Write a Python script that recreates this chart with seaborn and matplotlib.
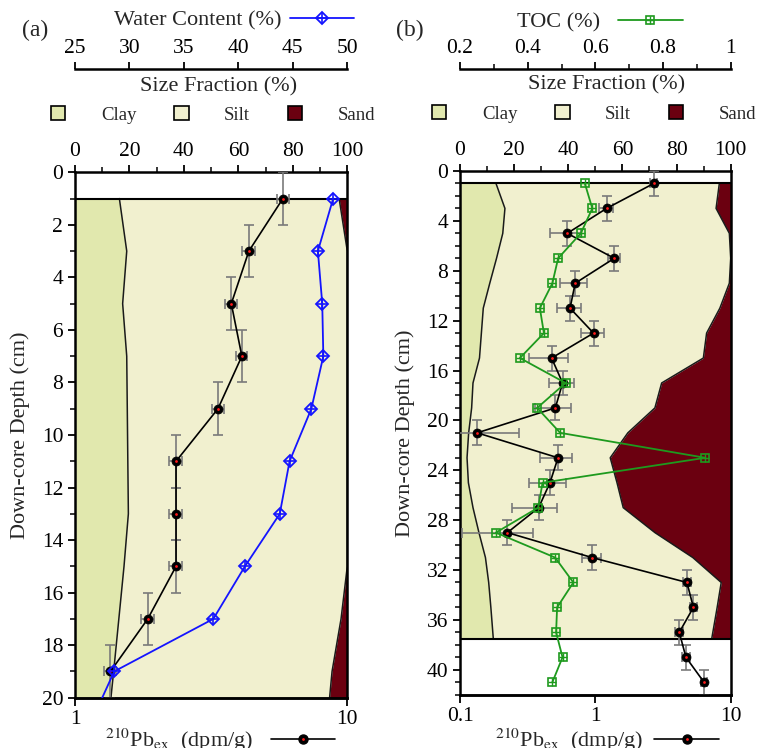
import matplotlib
matplotlib.use("Agg")
import matplotlib.pyplot as plt
from matplotlib.lines import Line2D
from matplotlib.patches import Patch
from matplotlib.legend_handler import HandlerTuple
from matplotlib.ticker import MultipleLocator, FixedLocator, NullLocator, FuncFormatter
import seaborn as sns

# ---------------- Core (a) ----------------
a_depth = [1, 3, 5, 7, 9, 11, 13, 15, 17, 19]
a_pb = [5.8, 4.35, 3.75, 4.1, 3.35, 2.35, 2.35, 2.35, 1.85, 1.35]
a_pb_err = [0.3, 0.25, 0.19, 0.2, 0.17, 0.13, 0.13, 0.13, 0.1, 0.07]
a_wc_depth = [1, 3, 5, 7, 9, 11, 13, 15, 17, 19, 21]
a_wc = [48.7, 47.3, 47.7, 47.8, 46.7, 44.7, 43.8, 40.6, 37.7, 28.6, 26.4]
a_sf_depth = [1, 3, 5, 7, 9, 11, 13, 15, 17, 19, 20]
a_clay = [16.3, 19.0, 17.5, 19.0, 19.2, 19.4, 19.6, 18.0, 16.1, 14.2, 13.2]
a_clay_silt = [97.0, 100, 100, 100, 100, 100, 100, 100, 97.7, 94.4, 93.5]

# ---------------- Core (b) ----------------
b_depth = [1, 3, 5, 7, 9, 11, 13, 15, 17, 19, 21, 23, 25, 27, 29, 31, 33, 35, 37, 39, 41]
b_pb = [2.7, 1.21, 0.62, 1.38, 0.71, 0.65, 0.97, 0.475, 0.573, 0.506, 0.134,
        0.53, 0.462, 0.381, 0.224, 0.944, 4.75, 5.3, 4.17, 4.67, 6.35]
b_pb_err = [0.15, 0.15, 0.16, 0.15, 0.16, 0.13, 0.18, 0.15, 0.12, 0.15, 0.14,
            0.14, 0.14, 0.14, 0.12, 0.15, 0.3, 0.3, 0.3, 0.3, 0.3]
b_toc = [0.569, 0.591, 0.557, 0.490, 0.473, 0.436, 0.448, 0.377, 0.512, 0.428, 0.496,
         0.925, 0.444, 0.431, 0.306, 0.481, 0.535, 0.487, 0.484, 0.503, 0.473]
b_sf_depth = [1, 3, 5, 7, 9, 11, 13, 15, 17, 19, 21, 23, 25, 27, 29, 31, 33, 35, 37.5]
b_clay = [13.3, 16.6, 15.8, 13.5, 11.0, 8.6, 7.9, 7.2, 4.8, 4.3, 3.2, 2.6, 3.1, 4.8,
          7.0, 9.4, 10.6, 11.4, 12.3]
b_clay_silt = [95.8, 94.6, 99.5, 100, 99.5, 96.0, 91.1, 89.9, 74.5, 72.0, 62.0, 55.5,
               58.0, 60.3, 72.0, 86.0, 96.5, 95.0, 93.0]

size_labels = ["Clay", "Silt", "Sand"]
wc_ticks = [25, 30, 35, 40, 45, 50]
toc_ticks = [0.2, 0.4, 0.6, 0.8, 1.0]

CLAY = "#e1e8ae"
SILT = "#f1f0cf"
SAND = "#6b0010"
BLUE = "#1414ff"
GREEN = "#1e9a1e"
RED = "#ff1a1a"
GREY = "#7a7a7a"

sns.set_theme(style="ticks")
plt.rcParams["font.family"] = ["Liberation Serif", "DejaVu Serif"]
plt.rcParams["mathtext.fontset"] = "stix"
plt.rcParams["font.size"] = 15
plt.rcParams["axes.linewidth"] = 1.8
plt.rcParams["xtick.major.width"] = 1.3
plt.rcParams["ytick.major.width"] = 1.3
plt.rcParams["xtick.minor.width"] = 1.1
plt.rcParams["ytick.minor.width"] = 1.1
plt.rcParams["xtick.major.size"] = 5
plt.rcParams["ytick.major.size"] = 5
plt.rcParams["xtick.minor.size"] = 3.5
plt.rcParams["ytick.minor.size"] = 3.5
plt.rcParams["xtick.labelsize"] = 15.5
plt.rcParams["ytick.labelsize"] = 15.5
plt.rcParams["xtick.color"] = "black"
plt.rcParams["ytick.color"] = "black"
plt.rcParams["axes.edgecolor"] = "black"

W, H = 761, 748
fig = plt.figure(figsize=(W / 100, H / 100), dpi=100)


def px_axes(left, top, right, bottom):
    return fig.add_axes([left / W, 1 - bottom / H, (right - left) / W, (bottom - top) / H])


def plain(v, _):
    return f"{v:g}"


def sediment(ax, depth, clay, clay_silt, ymax, base_line):
    ax.fill_betweenx(depth, 0, clay, color=CLAY, lw=0, zorder=1)
    ax.fill_betweenx(depth, clay, clay_silt, color=SILT, lw=0, zorder=1)
    ax.fill_betweenx(depth, clay_silt, 100, color=SAND, lw=0, zorder=1)
    ax.plot(clay, depth, color="#1a1a1a", lw=1.1, zorder=2)
    ax.plot(clay_silt, depth, color="#1a1a1a", lw=1.1, zorder=2)
    ax.axhline(depth[0], color="black", lw=1.5, zorder=2)
    if base_line:
        ax.axhline(depth[-1], color="black", lw=1.5, zorder=2)
    ax.set_xlim(0, 100)
    ax.set_ylim(ymax, 0)
    ax.tick_params(axis="y", which="both", direction="out", right=False)


def size_axis(ax):
    # percentage scale of the grain-size fill, shown along the top frame
    ax.xaxis.tick_top()
    ax.xaxis.set_label_position("top")
    ax.xaxis.set_major_locator(MultipleLocator(20))
    ax.xaxis.set_minor_locator(MultipleLocator(10))
    ax.tick_params(axis="x", which="both", direction="out", pad=3,
                   top=True, bottom=False, labeltop=True, labelbottom=False)
    ax.set_xlabel("")


def pb_profile(host, depth, pb, err, xlim):
    ax = host.twiny()
    ax.set_xscale("log")
    ax.set_xlim(*xlim)
    ax.patch.set_visible(False)
    ax.errorbar(pb, depth, xerr=err, yerr=1, fmt="none", ecolor=GREY,
                elinewidth=1.2, capsize=3.5, capthick=1.2, zorder=2)
    sns.lineplot(x=pb, y=depth, sort=False, estimator=None, ax=ax, color="black",
                 lw=1.2, marker="o", markersize=6.5, markerfacecolor="black",
                 markeredgecolor="black", markeredgewidth=0.5, zorder=3)
    ax.plot(pb, depth, ls="none", marker="o", ms=2.0, color=RED, mew=0, zorder=4)
    ax.xaxis.tick_bottom()
    ax.xaxis.set_label_position("bottom")
    ax.xaxis.set_major_formatter(FuncFormatter(plain))
    ax.xaxis.set_minor_locator(NullLocator())
    ax.tick_params(axis="x", which="major", direction="out", pad=3, length=6,
                   top=False, bottom=True, labeltop=False, labelbottom=True)
    ax.set_xlabel("")
    ax.set_ylabel("")
    for s in ("top", "left", "right"):
        ax.spines[s].set_visible(False)
    return ax


def top_scale(host, spine_pos):
    ax = host.twiny()
    ax.patch.set_visible(False)
    for s in ("bottom", "left", "right"):
        ax.spines[s].set_visible(False)
    ax.spines["top"].set_position(("axes", spine_pos))
    ax.spines["top"].set_linewidth(1.8)
    ax.xaxis.tick_top()
    ax.tick_params(axis="x", which="both", direction="out", pad=3)
    return ax


pb_handle = (Line2D([], [], color="black", lw=1.2, marker="o", ms=6.5, mfc="black", mec="black"),
             Line2D([], [], ls="none", marker="o", ms=2.0, color=RED, mew=0))
size_handles = [Patch(facecolor=c, edgecolor="black", lw=1.2) for c in (CLAY, SILT, SAND)]


def size_legend(cx, cy):
    fig.legend(size_handles, size_labels, loc="center", bbox_to_anchor=(cx / W, 1 - cy / H),
               ncol=3, frameon=False, fontsize=13.5, handlelength=0.78, handleheight=0.78,
               handletextpad=1.9, columnspacing=2.0, borderpad=0)


# ======================= panel (a) =======================
ax_a = px_axes(75, 172.3, 347.3, 697.7)
sediment(ax_a, a_sf_depth, a_clay, a_clay_silt, 20, False)
ax_a.yaxis.set_major_locator(MultipleLocator(2))
ax_a.yaxis.set_minor_locator(MultipleLocator(1))
ax_a.set_ylabel("Down-core Depth (cm)", fontsize=16, labelpad=8)

pb_a = pb_profile(ax_a, a_depth, a_pb, a_pb_err, (1, 10))

wc_a = top_scale(ax_a, (697.7 - 69) / 525.4)
wc_a.set_xlim(25, 50)
wc_a.xaxis.set_major_locator(FixedLocator(wc_ticks))
wc_a.xaxis.set_minor_locator(NullLocator())
sns.lineplot(x=a_wc, y=a_wc_depth, sort=False, estimator=None, ax=wc_a, color=BLUE, lw=1.3,
             marker="D", markersize=6, markerfacecolor="none", markeredgecolor=BLUE,
             markeredgewidth=1.3, zorder=5)
wc_a.plot(a_wc, a_wc_depth, ls="none", marker="+", ms=8.5, mew=1.2, color=BLUE, zorder=6)
wc_a.set_xlabel("")
wc_a.set_ylabel("")
size_axis(ax_a)

wc_handle = (Line2D([], [], color=BLUE, lw=1.3, marker="D", ms=6, mfc="none", mec=BLUE, mew=1.3),
             Line2D([], [], ls="none", marker="+", ms=8.5, mew=1.2, color=BLUE))
fig.legend([wc_handle], ["Water Content (%)"], handler_map={tuple: HandlerTuple(ndivide=1)},
           loc="center", bbox_to_anchor=(234 / W, 1 - 20 / H), frameon=False, fontsize=16,
           markerfirst=False, handlelength=2.9, handletextpad=0.4, borderpad=0)
fig.text(219 / W, 1 - 87 / H, "Size Fraction (%)", ha="center", va="center", fontsize=16)
size_legend(213, 115)
fig.legend([pb_handle], [r"$^{210}$Pb$_{\rm ex}$  (dpm/g)"],
           handler_map={tuple: HandlerTuple(ndivide=1)}, loc="center",
           bbox_to_anchor=(220 / W, 1 - 740 / H), frameon=False, fontsize=16,
           markerfirst=False, handlelength=2.9, handletextpad=0.8, borderpad=0)
fig.text(35 / W, 1 - 30 / H, "(a)", ha="center", va="center", fontsize=17)

# ======================= panel (b) =======================
ax_b = px_axes(460, 171, 730.7, 694.7)
sediment(ax_b, b_sf_depth, b_clay, b_clay_silt, 42, True)
ax_b.yaxis.set_major_locator(MultipleLocator(4))
ax_b.yaxis.set_minor_locator(MultipleLocator(1))
ax_b.set_ylabel("Down-core Depth (cm)", fontsize=16, labelpad=8)

pb_b = pb_profile(ax_b, b_depth, b_pb, b_pb_err, (0.1, 10))

toc_b = top_scale(ax_b, (694.7 - 69) / 523.7)
toc_b.set_xlim(0.2, 1.0)
toc_b.xaxis.set_major_locator(FixedLocator(toc_ticks))
toc_b.xaxis.set_minor_locator(MultipleLocator(0.1))
toc_b.xaxis.set_major_formatter(FuncFormatter(plain))
sns.lineplot(x=b_toc, y=b_depth, sort=False, estimator=None, ax=toc_b, color=GREEN, lw=1.3,
             marker="s", markersize=6, markerfacecolor="none", markeredgecolor=GREEN,
             markeredgewidth=1.2, zorder=5)
toc_b.plot(b_toc, b_depth, ls="none", marker="+", ms=6, mew=1.0, color=GREEN, zorder=6)
toc_b.set_xlabel("")
toc_b.set_ylabel("")
size_axis(ax_b)

toc_handle = (Line2D([], [], color=GREEN, lw=1.3, marker="s", ms=6, mfc="none", mec=GREEN, mew=1.2),
              Line2D([], [], ls="none", marker="+", ms=6, mew=1.0, color=GREEN))
fig.legend([toc_handle], ["TOC (%)"], handler_map={tuple: HandlerTuple(ndivide=1)},
           loc="center", bbox_to_anchor=(600 / W, 1 - 22 / H), frameon=False, fontsize=16,
           markerfirst=False, handlelength=2.9, handletextpad=0.8, borderpad=0)
fig.text(607 / W, 1 - 85 / H, "Size Fraction (%)", ha="center", va="center", fontsize=16)
size_legend(594, 114)
fig.legend([pb_handle], [r"$^{210}$Pb$_{\rm ex}$  (dmp/g)"],
           handler_map={tuple: HandlerTuple(ndivide=1)}, loc="center",
           bbox_to_anchor=(607 / W, 1 - 740 / H), frameon=False, fontsize=16,
           markerfirst=False, handlelength=2.9, handletextpad=0.5, borderpad=0)
fig.text(410 / W, 1 - 30 / H, "(b)", ha="center", va="center", fontsize=17)

fig.savefig("out.png", dpi=100)
